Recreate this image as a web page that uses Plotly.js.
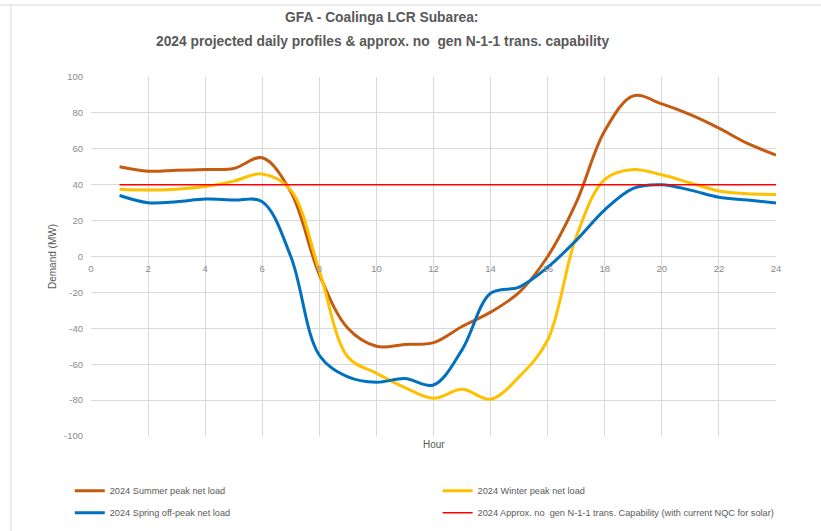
<!DOCTYPE html>
<html>
<head>
<meta charset="utf-8">
<script src="https://cdn.plot.ly/plotly-3.0.1.min.js"></script>
<style>
  html, body { margin: 0; padding: 0; background: #ffffff; }
  #chart { width: 821px; height: 531px; }
</style>
</head>
<body>
<div id="chart"></div>
<script>
// ---- data ----
const hours = [1,2,3,4,5,6,7,8,9,10,11,12,13,14,15,16,17,18,19,20,21,22,23,24];
const summerPeak = [50,47.5,48,48.5,49,55,36,-10,-40,-50,-49,-48,-39,-31,-20,0,30,70,89.5,85,79,71.5,63,56.5];
const winterPeak = [37.5,37,37.5,39,42,46,37,-8,-56,-65,-73,-79,-74,-79.5,-67,-46.5,11,43,48.5,45.5,41,36.5,35,34.6];
const springOffPeak = [34,30,30.5,32,31.5,30.5,0,-55,-67,-70,-68,-71.6,-52,-20.5,-17,-6,9,26,38,40,37,33,31.5,29.8];
const capability = [40,40,40,40,40,40,40,40,40,40,40,40,40,40,40,40,40,40,40,40,40,40,40,40];
const seriesNames = [
  "2024 Summer peak net load",
  "2024 Winter peak net load",
  "2024 Spring off-peak net load",
  "2024 Approx. no\u00a0 gen N-1-1 trans. Capability (with current NQC for solar)"
];
const titleLines = [
  "GFA - Coalinga LCR Subarea:",
  "2024 projected daily profiles &amp; approx. no\u00a0 gen N-1-1 trans. capability"
];
const xTickVals = [0,2,4,6,8,10,12,14,16,18,20,22,24];
const xTickLabels = ["0","2","4","6","8","10","12","14","16","18","20","22","24"];
const yTickVals = [-100,-80,-60,-40,-20,0,20,40,60,80,100];
const yTickLabels = ["-100","-80","-60","-40","-20","0","20","40","60","80","100"];

const colors = ["#C55A11", "#FFC000", "#0070C0", "#FF0000"];
const fontMain = "Liberation Sans, Arial, sans-serif";
const fontTick = "Liberation Sans, Arial, sans-serif";

const traces = [
  {x: hours, y: summerPeak, name: seriesNames[0], type: "scatter", mode: "lines", legend: "legend", legendgroup: "g1",
   line: {color: colors[0], width: 3, shape: "spline", smoothing: 1}},
  {x: hours, y: winterPeak, name: seriesNames[1], type: "scatter", mode: "lines", legend: "legend2", legendgroup: "g2",
   line: {color: colors[1], width: 3, shape: "spline", smoothing: 1}},
  {x: hours, y: springOffPeak, name: seriesNames[2], type: "scatter", mode: "lines", legend: "legend", legendgroup: "g3",
   line: {color: colors[2], width: 3, shape: "spline", smoothing: 1}},
  {x: hours, y: capability, name: seriesNames[3], type: "scatter", mode: "lines", legend: "legend2", legendgroup: "g4",
   line: {color: colors[3], width: 1.5}}
];

const legendFont = {family: fontMain, size: 9.2, color: "#595959"};

const layout = {
  width: 821, height: 531,
  margin: {l: 91, r: 45, t: 77, b: 95, autoexpand: false},
  paper_bgcolor: "#ffffff", plot_bgcolor: "#ffffff",
  font: {family: fontMain, color: "#595959", size: 10},
  title: {
    text: "<b>" + titleLines[0] + "</b>",
    x: 0.465, xanchor: "center", xref: "container",
    y: 1 - 17/531, yanchor: "middle", yref: "container",
    font: {family: fontMain, size: 13.8, color: "#595959"}
  },
  showlegend: true,
  legend: {
    orientation: "v", x: -0.031, xanchor: "left", y: -0.112, yanchor: "top",
    font: legendFont, itemwidth: 30, traceorder: "grouped", tracegroupgap: 3,
    bgcolor: "rgba(0,0,0,0)"
  },
  legend2: {
    orientation: "v", x: 0.506, xanchor: "left", y: -0.112, yanchor: "top",
    font: legendFont, itemwidth: 30, traceorder: "grouped", tracegroupgap: 3,
    bgcolor: "rgba(0,0,0,0)"
  },
  xaxis: {
    range: [0, 24], anchor: "free", position: 0.5,
    tickmode: "array", tickvals: xTickVals, ticktext: xTickLabels,
    showgrid: true, gridcolor: "#d9d9d9", gridwidth: 1,
    zeroline: false, showline: false, ticks: "", ticklabelstandoff: 5,
    tickfont: {family: fontTick, size: 9.5, color: "#8a8a8a"},
    fixedrange: true
  },
  yaxis: {
    range: [-100, 100],
    tickmode: "array", tickvals: yTickVals, ticktext: yTickLabels,
    showgrid: true, gridcolor: "#d9d9d9", gridwidth: 1,
    zeroline: false, showline: false, ticks: "", ticklabelstandoff: 7,
    tickfont: {family: fontTick, size: 9.5, color: "#8a8a8a"},
    title: {text: "Demand (MW)", standoff: 5, font: {family: fontMain, size: 10, color: "#595959"}},
    fixedrange: true
  },
  annotations: [
    {text: "<b>" + titleLines[1] + "</b>", xref: "paper", yref: "paper",
     x: (382 - 91) / 685, y: (436 - 42) / 359, xanchor: "center", yanchor: "middle",
     showarrow: false, font: {family: fontMain, size: 13.8, color: "#595959"}},
    {text: "Hour", xref: "paper", yref: "paper", x: 0.5, y: -0.025, xanchor: "center", yanchor: "middle",
     showarrow: false, font: {family: fontMain, size: 10, color: "#595959"}}
  ],
  shapes: [
    {type: "line", xref: "paper", yref: "paper", x0: (0 - 91) / 685, x1: (821 - 91) / 685,
     y0: (436 - 5) / 359, y1: (436 - 5) / 359, line: {color: "#d9d9d9", width: 1}},
    {type: "line", xref: "paper", yref: "paper", x0: (11 - 91) / 685, x1: (11 - 91) / 685,
     y0: (436 - 5) / 359, y1: (436 - 531) / 359, line: {color: "#d9d9d9", width: 1}}
  ]
};

Plotly.newPlot("chart", traces, layout, {displayModeBar: false, staticPlot: true});
</script>
</body>
</html>
